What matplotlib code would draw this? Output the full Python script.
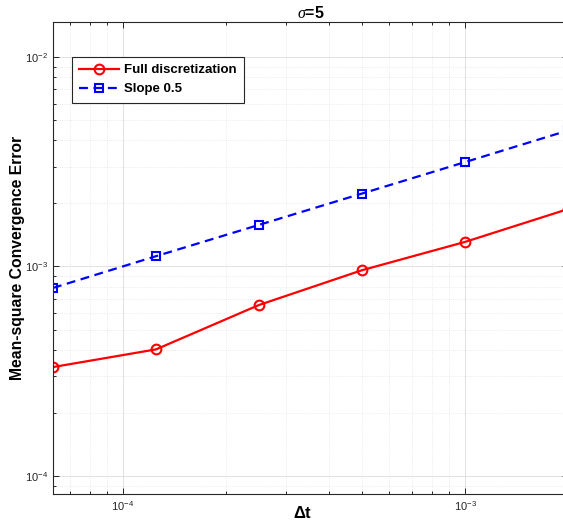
import matplotlib
matplotlib.use("Agg")
import matplotlib.pyplot as plt
import numpy as np

# step sizes and errors
dt = [6.25e-5, 1.25e-4, 2.5e-4, 5e-4, 1e-3, 2e-3]
err_full = [3.31e-4, 4.02e-4, 6.55e-4, 9.6e-4, 1.31e-3, 1.88e-3]
ref_slope = [7.9e-4, 1.12e-3, 1.58e-3, 2.23e-3, 3.15e-3, 4.46e-3]
labels = ['Full discretization', 'Slope 0.5']

plt.rcParams['font.family'] = ['Liberation Sans', 'DejaVu Sans']
plt.rcParams['mathtext.fontset'] = 'custom'
plt.rcParams['mathtext.rm'] = 'Liberation Sans'
plt.rcParams['mathtext.it'] = 'Liberation Serif:italic'
plt.rcParams['mathtext.bf'] = 'Liberation Sans:bold'

W, H = 563, 524
fig = plt.figure(figsize=(W/100, H/100), dpi=100)
# axes box: left 53px, right 568px (just past the edge), top 22px, bottom 494px
ax = fig.add_axes([53/W, (H-494)/H, 515/W, 472/H])

ax.loglog(dt, err_full, '-o', color='red', lw=1.6, ms=7, mfc='none', mew=1.5, label=labels[0])
ax.loglog(dt, ref_slope, '--s', color='blue', lw=1.6, ms=5.5, mfc='none', mew=1.5,
          dashes=(4, 2.5), label=labels[1])

ax.set_xlim(6.25e-5, 2e-3)
ax.set_ylim(8.2e-5, 1.47e-2)

ax.grid(True, which='major', color='#dcdcdc', lw=0.6, ls='-')
ax.grid(True, which='minor', color='#e4e4e4', lw=0.6, ls=':')
ax.tick_params(which='both', direction='in', top=True, right=True, labelsize=8,
               colors='#262626', width=0.7)
ax.tick_params(which='major', length=4)
ax.tick_params(which='minor', length=2.5)
for s in ax.spines.values():
    s.set_color('#262626')
    s.set_linewidth(0.8)

ax.set_title(r'$\sigma$=5', fontsize=11.5, fontweight='bold', pad=3)
ax.set_xlabel(r'$\mathbf{\Delta t}$', fontsize=12)
ax.xaxis.set_label_coords((303-53)/515, -(513-494)/472)
ax.xaxis.label.set_va('center')
ax.set_ylabel('Mean-square Convergence Error', fontsize=11.3, fontweight='bold')
ax.yaxis.set_label_coords(-(53-18)/515, 0.5)
ax.yaxis.label.set_va('center')

leg = ax.legend(loc='upper left', bbox_to_anchor=(19/515, 1-(57-22)/472), borderaxespad=0,
                fancybox=False, edgecolor='#262626', framealpha=1, handlelength=3.0,
                handletextpad=0.4, prop={'weight': 'bold', 'size': 9.5},
                borderpad=0.55, labelspacing=0.5)
leg.get_frame().set_linewidth(0.8)

fig.savefig('out.png', dpi=100)
